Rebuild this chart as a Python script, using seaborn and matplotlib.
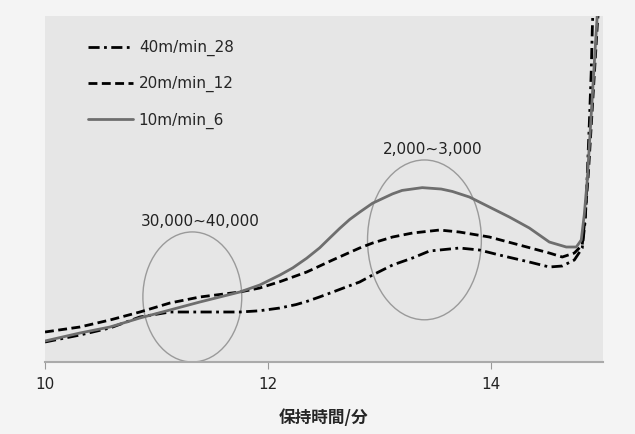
import numpy as np
import pandas as pd
import seaborn as sns
import matplotlib.pyplot as plt
from matplotlib.patches import Ellipse

# retention time (min) vs detector response (arbitrary units, no y scale in the source)
t_40 = [10.00, 10.313, 10.582, 10.850, 11.119, 11.387, 11.745, 11.92, 12.103, 12.25,
        12.345, 12.46, 12.577, 12.70, 12.819, 12.935, 13.114, 13.293, 13.445, 13.714,
        13.893, 14.072, 14.340, 14.519, 14.635, 14.743, 14.814, 14.841, 14.859, 14.877,
        14.895, 14.904, 14.913]
y_40 = [5.78, 7.80, 9.83, 13.01, 14.45, 14.45, 14.45, 14.8, 15.6, 16.6,
        17.5, 18.8, 20.2, 21.7, 23.12, 25.14, 28.03, 30.06, 32.08, 32.95,
        32.37, 30.92, 28.90, 27.46, 27.75, 29.48, 32.95, 41.04, 54.05, 68.50,
        84.39, 95.95, 104.6]

t_20 = [10.00, 10.313, 10.582, 10.850, 11.119, 11.387, 11.745, 11.924, 12.103, 12.345,
        12.577, 12.819, 12.935, 13.114, 13.293, 13.535, 13.714, 13.982, 14.251, 14.519,
        14.635, 14.743, 14.814, 14.841, 14.868, 14.895, 14.922, 14.949, 14.966]
y_20 = [8.67, 10.12, 12.14, 14.45, 17.05, 18.79, 20.23, 21.39, 23.2, 26.01,
        29.48, 32.95, 34.39, 36.13, 37.28, 38.15, 37.57, 36.13, 33.82, 31.50,
        30.35, 31.50, 33.82, 42.49, 54.05, 68.50, 82.95, 97.40, 104.6]

t_10 = [10.00, 10.313, 10.582, 10.850, 11.119, 11.387, 11.745, 11.924, 12.103, 12.22,
        12.345, 12.461, 12.55, 12.640, 12.73, 12.819, 12.935, 13.114, 13.20, 13.38,
        13.55, 13.65, 13.803, 13.982, 14.161, 14.340, 14.519, 14.671, 14.761, 14.805,
        14.832, 14.859, 14.886, 14.913, 14.940, 14.957]
y_10 = [6.07, 8.38, 10.12, 12.72, 15.03, 17.34, 20.23, 22.25, 25.1, 27.2,
        30.0, 33.0, 35.8, 38.6, 41.2, 43.3, 45.9, 48.6, 49.6, 50.4,
        50.0, 49.3, 47.69, 44.80, 41.91, 38.73, 34.68, 33.24, 33.24, 35.26,
        42.49, 52.60, 67.05, 81.50, 95.95, 104.6]

labels = ['40m/min_28', '20m/min_12', '10m/min_6']

# circled regions: center x, center y, width, height, text
circle_x = [11.32, 13.40]
circle_y = [18.8, 35.3]
circle_w = [0.886, 1.02]
circle_h = [37.6, 46.2]
circle_text = ['30,000~40,000', '2,000~3,000']

sns.set_style('white')
plt.rcParams['font.family'] = ['DejaVu Sans']

fig = plt.figure(figsize=(6.35, 4.34), dpi=100, facecolor='#f4f4f4')
ax = fig.add_axes([0.0709, 0.1659, 0.8787, 0.7971])
ax.set_facecolor('#e6e6e6')

series = [(t_40, y_40, 'black', (4, 1.6, 1, 1.6)),
          (t_20, y_20, 'black', (3.2, 1.6)),
          (t_10, y_10, '#6e6e6e', None)]
for (t, y, c, d), lab in zip(series, labels):
    kw = dict(color=c, linewidth=2.0, label=lab)
    if d is not None:
        kw['dashes'] = d
    sns.lineplot(x=t, y=y, ax=ax, **kw)

for cx, cy, w, h, txt in zip(circle_x, circle_y, circle_w, circle_h, circle_text):
    ax.add_patch(Ellipse((cx, cy), w, h, fill=False, edgecolor='#9a9a9a', linewidth=1.0))
    ax.text(cx + 0.07, cy + h / 2 + 0.9, txt, ha='center', va='bottom', fontsize=11, color='#222222')

ax.set_xlim(10, 15)
ax.set_ylim(0, 100)
ax.set_xticks([10, 12, 14])
ax.set_yticks([])
ax.tick_params(axis='x', direction='out', length=5, color='#999999', labelsize=11,
               labelcolor='#222222', pad=6, bottom=True)
for s in ['left', 'right', 'top']:
    ax.spines[s].set_visible(False)
ax.spines['bottom'].set_color('#aaaaaa')
ax.spines['bottom'].set_linewidth(1.5)
ax.set_xlabel('保持時間/分', fontsize=12, fontweight='bold',
              family=['Noto Sans CJK JP', 'DejaVu Sans'], labelpad=12)
ax.set_ylabel('')

leg = ax.legend(loc='upper left', bbox_to_anchor=(0.053, 0.97), frameon=False,
                fontsize=11, handlelength=2.9, handletextpad=0.4, labelspacing=1.3)

fig.savefig('out.png', dpi=100, facecolor=fig.get_facecolor())
